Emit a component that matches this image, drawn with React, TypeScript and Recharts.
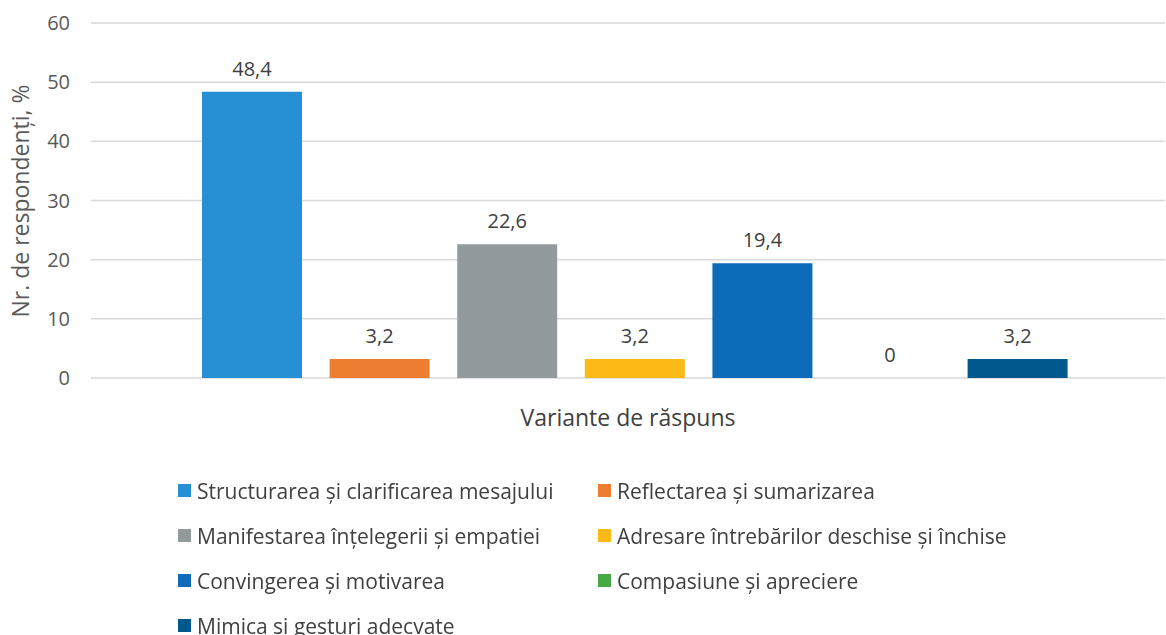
import React from "react";
import { BarChart, Bar, XAxis, YAxis, CartesianGrid, Legend, LabelList } from "recharts";

const category = "Variante de răspuns";
const seriesNames = [
    "Structurarea și clarificarea mesajului",
    "Reflectarea și sumarizarea",
    "Manifestarea înțelegerii și empatiei",
    "Adresare întrebărilor deschise și închise",
    "Convingerea și motivarea",
    "Compasiune și apreciere",
    "Mimica și gesturi adecvate",
];
const seriesValues = [48.4, 3.2, 22.6, 3.2, 19.4, 0, 3.2];
const seriesColors = ["#2790d4", "#ed7d31", "#939a9e", "#fdb916", "#0e6bb9", "#46a946", "#00588c"];
const yTicks = [0, 10, 20, 30, 40, 50, 60];

const row: Record<string, string | number> = { name: category };
seriesNames.forEach((n, i) => {
    row["s" + i] = seriesValues[i];
});
const data = [row];

const font = "'Open Sans', sans-serif";
const textColor = "#404040";

function LegendBox() {
    return (
        <div
            style={{
                display: "grid",
                gridTemplateColumns: "420px 420px",
                fontFamily: font,
                fontSize: 21,
                color: textColor,
                paddingLeft: 178,
            }}
        >
            {seriesNames.map((n, i) => (
                <div key={n} style={{ display: "flex", alignItems: "center", height: 45, whiteSpace: "nowrap" }}>
                    <span
                        style={{
                            display: "inline-block",
                            width: 13,
                            height: 13,
                            background: seriesColors[i],
                            marginRight: 6,
                        }}
                    />
                    {n}
                </div>
            ))}
        </div>
    );
}

// value label above each bar, drawn also for the zero bar
const renderValue = (props: any) => {
    const { x, y, width, value } = props;
    if (value === undefined || value === null) return null;
    return (
        <text
            x={Number(x) + Number(width) / 2}
            y={Number(y) - 16}
            textAnchor="middle"
            fill={textColor}
            fontSize={20}
            fontFamily={font}
        >
            {String(value).replace(".", ",")}
        </text>
    );
};

export default function App() {
    return (
        <div style={{ position: "fixed", left: 0, top: 0, background: "#fff" }}>
            <BarChart
                width={1166}
                height={635}
                data={data}
                margin={{ top: 23, right: 1, left: 0, bottom: 17 }}
                barSize={100}
                barGap={27.6}
            >
                <CartesianGrid vertical={false} stroke="#d9d9d9" strokeWidth={1.5} />
                <XAxis
                    dataKey="name"
                    tick={false}
                    axisLine={false}
                    tickLine={false}
                    height={60}
                    padding={{ left: 14, right: 0 }}
                    label={{
                        value: category,
                        position: "insideBottom",
                        offset: 12,
                        fill: textColor,
                        fontSize: 23,
                        fontFamily: font,
                    }}
                />
                <YAxis
                    width={91}
                    domain={[0, 60]}
                    ticks={yTicks}
                    axisLine={false}
                    tickLine={false}
                    tickSize={0}
                    tickMargin={21}
                    tick={{ fill: "#595959", fontSize: 20, fontFamily: font }}
                    label={{
                        content: () => (
                            <text
                                x={29}
                                y={201}
                                transform="rotate(-90 29 201)"
                                textAnchor="middle"
                                fill="#595959"
                                fontSize={23}
                                fontFamily={font}
                            >
                                Nr. de respondenți, %
                            </text>
                        ),
                    }}
                />
                <Legend
                    content={() => <LegendBox />}
                    wrapperStyle={{ position: "absolute", top: 468, left: 0, width: 1166 }}
                />
                {seriesNames.map((n, i) => (
                    <Bar
                        key={n}
                        dataKey={"s" + i}
                        name={n}
                        fill={seriesColors[i]}
                        isAnimationActive={false}
                        minPointSize={0.01}
                    >
                        <LabelList dataKey={"s" + i} content={renderValue} />
                    </Bar>
                ))}
            </BarChart>
        </div>
    );
}
